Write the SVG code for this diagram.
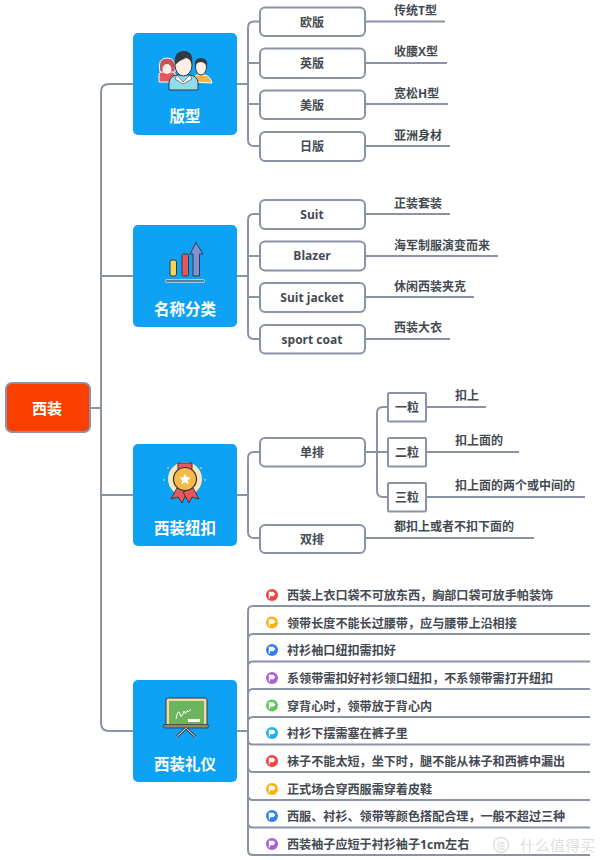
<svg xmlns="http://www.w3.org/2000/svg" xmlns:xlink="http://www.w3.org/1999/xlink" width="600" height="860" viewBox="0 0 600 860">
<style>
text{font-family:"Open Sans","Noto Sans CJK SC",sans-serif;fill:#444a52;font-size:12px;font-weight:700}
.c{text-anchor:middle}
.w{fill:#fff;font-size:15.5px;text-anchor:middle}
.b{fill:#0ea2f5}
.n{fill:#fff;stroke:#8a92a5;stroke-width:2}
.t{font-size:12.1px}
#connectors path{fill:none;stroke:#8a92a5;stroke-width:2}
.k{stroke:#2f3a44;stroke-width:1}
</style>
<defs>
<g id="flag"><path d="M-2.6,-3.2V3.6" stroke="#fff" stroke-width="1.2" fill="none"/><path d="M-2.4,-3.2H1.4L3.4,-1L1.4,1.2H-2.4Z" fill="#fff"/></g>
</defs>
<rect width="600" height="860" fill="#fff"/>
<g id="connectors">
<path d="M90,408H101"/>
<path d="M133,84H109Q101,84 101,92V723Q101,731 109,731H133"/>
<path d="M101,276H133M101,495H133"/>
<path d="M237,84H248"/>
<path d="M260,21.500H254Q248,21.500 248,27.500V140Q248,146 254,146H260M248,63H260M248,104H260"/>
<path d="M237,276H248"/>
<path d="M260,214H254Q248,214 248,220V333Q248,339 254,339H260M248,256H260M248,297H260"/>
<path d="M237,495H248"/>
<path d="M260,452H254Q248,452 248,458V532Q248,538 254,538H260"/>
<path d="M365,452H388"/>
<path d="M388,407H383Q377,407 377,413V491Q377,497 383,497H388"/>
<path d="M426,407H486M426,452H519M426,497H585M365,538H534"/>
<path d="M365,21.500H445M365,63H447M365,104H448M365,146H450"/>
<path d="M365,214H450M365,256H498M365,297H474M365,339H450"/>
<path d="M237,731H248"/>
<path d="M248,851V611Q248,606 253,606H590"/>
<path d="M248,639Q248,634 253,634H590M248,666Q248,661.500 253,661.500H590M248,694Q248,689 253,689H590M248,722Q248,717 253,717H590"/>
<path d="M248,740Q248,744.500 253,744.500H590M248,767Q248,772 253,772H590M248,795Q248,800 253,800H590M248,823Q248,827.500 253,827.500H590M248,850Q248,855 253,855H590"/>
</g>
<g id="root"><rect x="6" y="383" width="84" height="49" rx="6" fill="#fa3f00" stroke="#8a92a5" stroke-width="2"/><text class="w" x="47" y="414" style="font-size:15px">西装</text></g>

<g id="banxing">
<rect class="b" x="133" y="33" width="104" height="102" rx="5"/>
<path d="M159,82V74Q160,72 163,71H172Q175,72 176,76V82Z" fill="#e8565e" stroke="#fff"/>
<path d="M160,72Q157,58 167,58Q177,58 175,72Z" fill="#c4535c" stroke="#fff"/>
<ellipse cx="167" cy="69" rx="4.500" ry="5" fill="#fdeee3"/>
<path d="M192,82V79Q194,76 197,75H205Q210,76 212,83Z" fill="#f6b23f" stroke="#fff"/>
<ellipse cx="201" cy="67" rx="5.500" ry="8" fill="#fdeee3" stroke="#2f3a44" stroke-width="1"/>
<path d="M195,66Q194,58 201,58Q208,58 207,66Q204,62 201,62Q197,62 195,66Z" fill="#2f3a44"/>
<path d="M169,90V82Q170,76 177,75H190Q197,76 198,82V90Z" fill="#92dbe9" stroke="#2f3a44" stroke-width="1"/>
<path d="M177,75L183,82L190,75L192,79L183,84L175,79Z" fill="#fff" stroke="#2f3a44" stroke-width=".6"/>
<ellipse cx="183.500" cy="65" rx="8.500" ry="11" fill="#fdeee3" stroke="#2f3a44" stroke-width="1"/>
<path d="M175,65Q173,51 184,51Q194,51 192,65Q190,58 186,58Q180,60 175,65Z" fill="#2f3a44"/>
<text class="w" x="185" y="122">版型</text>
</g>
<g id="o1"><rect class="n" x="260" y="7.500" width="105" height="28.500" rx="5"/><text class="c" x="312" y="27">欧版</text></g>
<g id="o2"><rect class="n" x="260" y="48.500" width="105" height="29.500" rx="5"/><text class="c" x="312" y="68">英版</text></g>
<g id="o3"><rect class="n" x="260" y="90.500" width="105" height="28.500" rx="5"/><text class="c" x="312" y="110">美版</text></g>
<g id="o4"><rect class="n" x="260" y="132" width="105" height="29" rx="5"/><text class="c" x="312" y="151">日版</text></g>
<g id="l1"><text x="394" y="14.500">传统T型</text></g>
<g id="l2"><text x="394" y="56">收腰X型</text></g>
<g id="l3"><text x="394" y="98">宽松H型</text></g>
<g id="l4"><text x="394" y="139.500">亚洲身材</text></g>

<g id="mingcheng">
<rect class="b" x="133" y="225" width="104" height="102" rx="5"/>
<rect class="k" x="170" y="260" width="6.500" height="16" rx="2" fill="#f6d25c"/>
<rect class="k" x="182" y="254" width="6.500" height="22" rx="1.500" fill="#e8565e"/>
<path class="k" d="M193,276V254H190L196,242.500L203,254H199.500V276Z" fill="#8290d8"/>
<rect x="165.500" y="279.500" width="39" height="3" rx="1" fill="#5c7f98" stroke="#d9e6ee" stroke-width=".7"/>
<text class="w" x="185" y="315">名称分类</text>
</g>
<g id="s1"><rect class="n" x="260" y="200" width="105" height="29" rx="5"/><text class="c" x="312" y="218.500">Suit</text></g>
<g id="s2"><rect class="n" x="260" y="241.500" width="105" height="29" rx="5"/><text class="c" x="312" y="260">Blazer</text></g>
<g id="s3"><rect class="n" x="260" y="283" width="105" height="29" rx="5"/><text class="c" x="312" y="301.500">Suit jacket</text></g>
<g id="s4"><rect class="n" x="260" y="325" width="105" height="28.500" rx="5"/><text class="c" x="312" y="343.500">sport coat</text></g>
<g id="m1"><text x="394" y="207.500">正装套装</text></g>
<g id="m2"><text x="394" y="249.500">海军制服演变而来</text></g>
<g id="m3"><text x="394" y="291">休闲西装夹克</text></g>
<g id="m4"><text x="394" y="332">西装大衣</text></g>

<g id="niukou">
<rect class="b" x="133" y="444" width="104" height="102" rx="5"/>
<circle cx="185" cy="479" r="17" fill="#fbe6b8"/>
<path class="k" d="M178,463H192V470H178Z" fill="#e8565e"/>
<path class="k" d="M177,488L171,499L178,497L182,503L187,492Z" fill="#e8565e"/>
<path class="k" d="M193,488L199,499L192,497L189,503L183,492Z" fill="#e8565e"/>
<circle cx="185" cy="479" r="11.500" fill="#f6b94a" stroke="#2f2f3a" stroke-width="1.200"/>
<path d="M185,473.500L186.700,477.200L190.700,477.600L187.700,480.300L188.600,484.300L185,482.200L181.400,484.300L182.300,480.300L179.300,477.600L183.300,477.200Z" fill="#fff"/>
<g fill="#8fd0ee"><circle cx="164" cy="480" r="1"/><circle cx="205" cy="480" r="1"/><circle cx="168" cy="468" r="1"/><circle cx="201" cy="468" r="1"/></g>
<text class="w" x="185" y="534">西装纽扣</text>
</g>
<g id="d1"><rect class="n" x="260" y="438" width="105" height="28.500" rx="5"/><text class="c" x="312" y="457">单排</text></g>
<g id="d2"><rect class="n" x="260" y="525" width="105" height="28" rx="5"/><text class="c" x="312" y="543.500">双排</text></g>
<g id="g1"><rect class="n" x="388" y="393" width="38" height="28.500" rx="1"/><text class="c" x="407" y="412">一粒</text></g>
<g id="g2"><rect class="n" x="388" y="438" width="38" height="28.500" rx="1"/><text class="c" x="407" y="457">二粒</text></g>
<g id="g3"><rect class="n" x="388" y="483" width="38" height="28.500" rx="1"/><text class="c" x="407" y="502">三粒</text></g>
<g id="k1"><text x="455" y="400">扣上</text></g>
<g id="k2"><text x="455" y="445">扣上面的</text></g>
<g id="k3"><text x="455" y="490">扣上面的两个或中间的</text></g>
<g id="k4"><text x="394" y="531">都扣上或者不扣下面的</text></g>

<g id="liyi">
<rect class="b" x="133" y="680" width="104" height="102" rx="5"/>
<path d="M176.500,737L186,728L195.500,737" fill="none" stroke="#2f3a44" stroke-width="2.600"/>
<path d="M176.500,737L186,728L195.500,737" fill="none" stroke="#fff" stroke-width="1"/>
<rect class="k" x="166" y="698" width="41" height="28" rx="2" fill="#f3d9a8"/>
<rect x="169" y="701" width="35" height="23" fill="#6cb55c"/>
<path d="M176,719Q178,708 180,714Q181,720 184,711Q185,716 187,711Q188,713 191,709" fill="none" stroke="#fff" stroke-width="1"/>
<rect x="188" y="719" width="12" height="3" fill="#fff"/>
<rect x="163.500" y="724.500" width="45" height="3.500" rx="1.500" fill="#9a7f6a" stroke="#2f3a44" stroke-width=".8"/>
<text class="w" x="185" y="770">西装礼仪</text>
</g>

<g id="r1"><circle cx="272" cy="595" r="6" fill="#f0433d"/><use xlink:href="#flag" href="#flag" x="272" y="595"/><text class="t" x="287" y="599.500">西装上衣口袋不可放东西，胸部口袋可放手帕装饰</text></g>
<g id="r2"><circle cx="272" cy="622.500" r="6" fill="#fbb116"/><use xlink:href="#flag" href="#flag" x="272" y="622.500"/><text class="t" x="287" y="627.500">领带长度不能长过腰带，应与腰带上沿相接</text></g>
<g id="r3"><circle cx="272" cy="650" r="6" fill="#2f7ff0"/><use xlink:href="#flag" href="#flag" x="272" y="650"/><text class="t" x="287" y="655">衬衫袖口纽扣需扣好</text></g>
<g id="r4"><circle cx="272" cy="678" r="6" fill="#a55fd8"/><use xlink:href="#flag" href="#flag" x="272" y="678"/><text class="t" x="287" y="683">系领带需扣好衬衫领口纽扣，不系领带需打开纽扣</text></g>
<g id="r5"><circle cx="272" cy="705.500" r="6" fill="#5cc85a"/><use xlink:href="#flag" href="#flag" x="272" y="705.500"/><text class="t" x="287" y="710.500">穿背心时，领带放于背心内</text></g>
<g id="r6"><circle cx="272" cy="733" r="6" fill="#1fb0ea"/><use xlink:href="#flag" href="#flag" x="272" y="733"/><text class="t" x="287" y="738">衬衫下摆需塞在裤子里</text></g>
<g id="r7"><circle cx="272" cy="761" r="6" fill="#f0433d"/><use xlink:href="#flag" href="#flag" x="272" y="761"/><text class="t" x="287" y="766">袜子不能太短，坐下时，腿不能从袜子和西裤中漏出</text></g>
<g id="r8"><circle cx="272" cy="789" r="6" fill="#fbb116"/><use xlink:href="#flag" href="#flag" x="272" y="789"/><text class="t" x="287" y="793.500">正式场合穿西服需穿着皮鞋</text></g>
<g id="r9"><circle cx="272" cy="816" r="6" fill="#2f7ff0"/><use xlink:href="#flag" href="#flag" x="272" y="816"/><text class="t" x="287" y="821">西服、衬衫、领带等颜色搭配合理，一般不超过三种</text></g>
<g id="r10"><circle cx="272" cy="844" r="6" fill="#a55fd8"/><use xlink:href="#flag" href="#flag" x="272" y="844"/><text class="t" x="287" y="849">西装袖子应短于衬衫袖子1cm左右</text></g>

<g id="watermark"><circle cx="501" cy="845" r="7.500" fill="none" stroke="#dedede" stroke-width="1.500"/><text class="c" x="501" y="849" style="fill:#dedede;font-size:9px;font-weight:400">值</text><text x="520" y="851" style="fill:#dedede;font-size:15px;font-weight:400">什么值得买</text></g>
</svg>
